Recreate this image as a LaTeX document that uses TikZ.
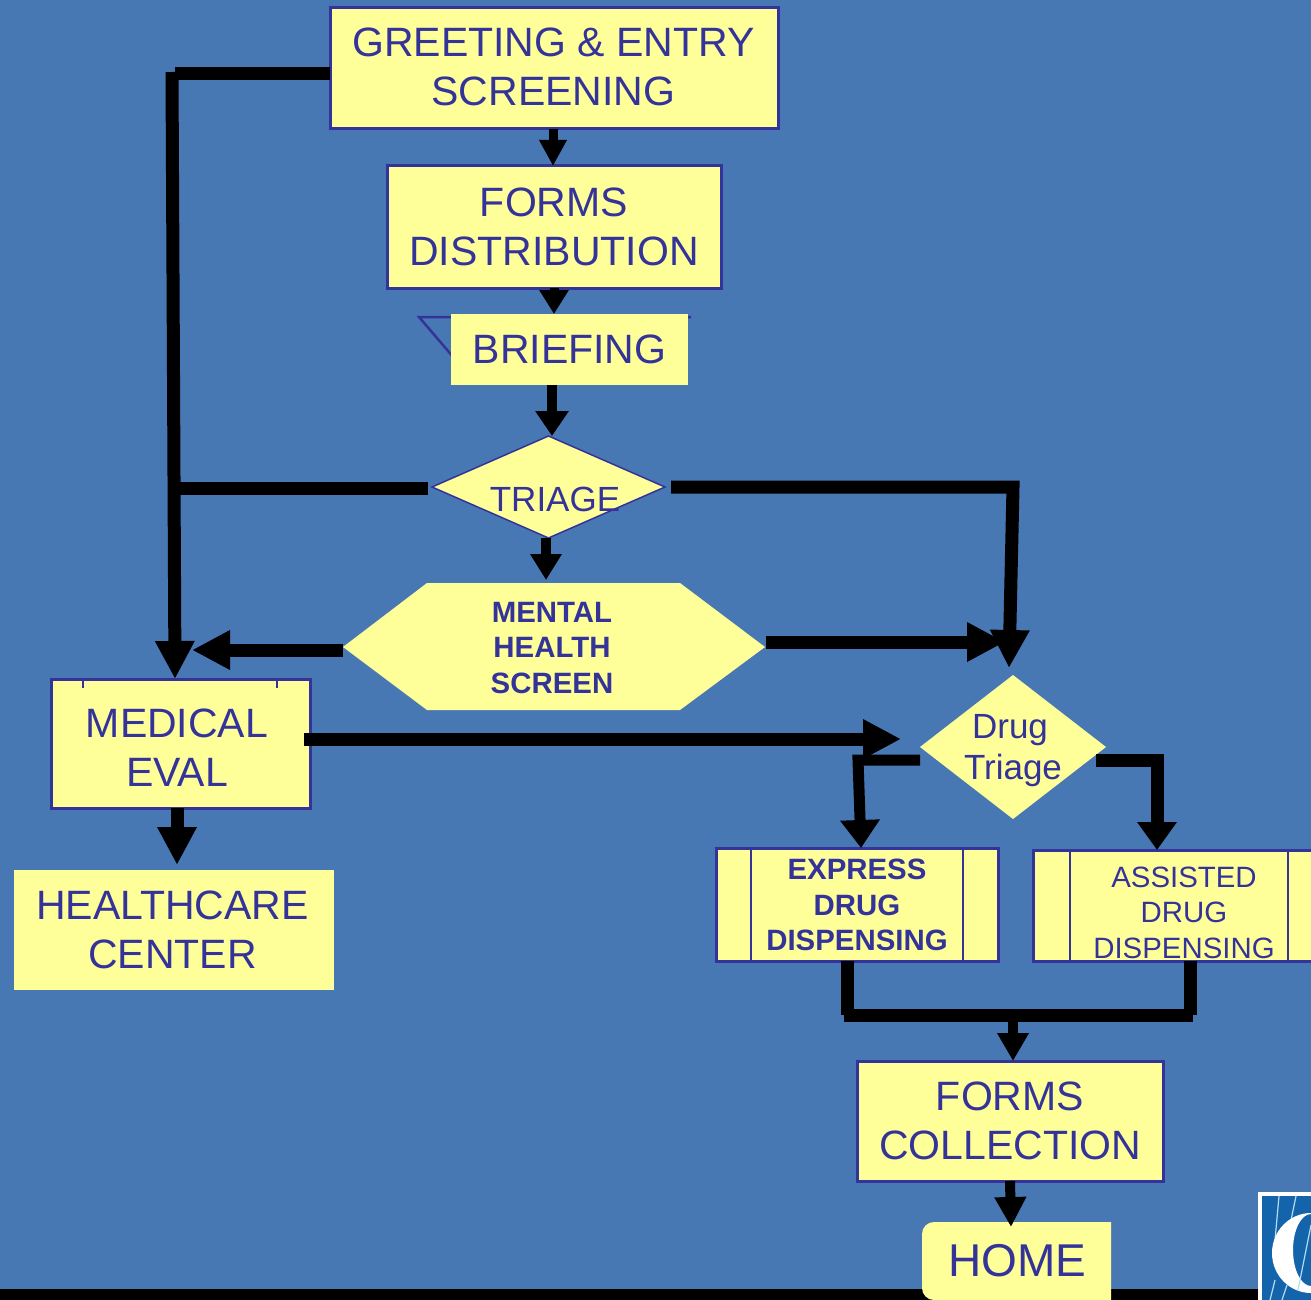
\documentclass[tikz,border=0pt]{standalone}
\usepackage{fontspec}
\setmainfont{Liberation Sans}
\usetikzlibrary{arrows.meta,shapes.geometric,calc}
\definecolor{bgblue}{HTML}{4878B4}
\definecolor{boxfill}{HTML}{FFFF99}
\definecolor{ink}{HTML}{333399}
\definecolor{logoblue}{HTML}{1464AC}
\definecolor{logoline}{HTML}{B8DCEE}
\tikzset{
  bx/.style={rectangle,fill=boxfill,inner sep=0pt,outer sep=0pt,text=ink,align=center,font=\fontsize{41}{49}\selectfont},
  bdr/.style={bx,draw=ink,line width=3pt},
  txt/.style={inner sep=0pt,outer sep=0pt,text=ink,align=center},
  small/.style={txt,font=\fontsize{29.4}{35.5}\selectfont},
  smallb/.style={txt,font=\fontsize{29.4}{35.5}\selectfont\bfseries},
  dmd/.style={diamond,fill=boxfill,inner sep=0pt,outer sep=0pt},
  line/.style={draw=black,line width=13pt,miter limit=10},
  big/.style={line,-{Triangle[length=38pt,width=37pt]}},
  low/.style={line,-{Triangle[length=28pt,width=38pt]}},
}
\begin{document}
\begin{tikzpicture}[x=1pt,y=-1pt]
\useasboundingbox (0,0) rectangle (1311,1300);
\fill[bgblue] (0,0) rectangle (1311,1300);
% bottom bar and logo
\fill[black] (0,1289) rectangle (1258,1300);
\fill[white] (1258,1192) rectangle (1311,1300);
\fill[logoblue] (1262,1196) rectangle (1311,1300);
\begin{scope}
\clip (1262,1196) rectangle (1311,1300);
\draw[logoline,line width=1.2pt] (1279,1196)--(1275,1240) (1296,1196)--(1290,1225) (1275,1280)--(1270,1300) (1287,1285)--(1282,1300);
\fill[white,even odd rule] (1311,1253) ellipse [x radius=39,y radius=40]
  (1311,1250) ellipse [x radius=18,y radius=36];
\draw[logoline,line width=1.2pt] (1311,1225)--(1298,1290);
\end{scope}
% boxes
\node[bdr,minimum width=448pt,minimum height=121pt] (greet) at (554,68.5) {};
\node[txt,font=\fontsize{41}{49}\selectfont] (greettext) at (553.5,66.5) {GREETING \& ENTRY\\SCREENING};
\node[bdr,minimum width=334pt,minimum height=122pt] (forms) at (554,227) {FORMS\\DISTRIBUTION};
\draw[ink,line width=2.5pt] (460,317)--(419,317)--(454,358) (686,317)--(691,317);
\node[bx,minimum width=237pt,minimum height=71pt] (brief) at (569.5,349.5) {BRIEFING};
\node[dmd,draw=ink,line width=1.5pt,minimum width=233pt,minimum height=102pt] (triage) at (548.5,487) {};
\node[txt,font=\fontsize{35}{42}\selectfont] (triagetext) at (555,499) {TRIAGE};
\fill[boxfill] (343,647)--(427,583)--(680,583)--(765,647)--(680,710)--(427,710)--cycle;
\node[minimum width=422pt,minimum height=127pt,inner sep=0pt,outer sep=0pt] (mental) at (554,646.5) {};
\node[smallb] (mentaltext) at (552,648) {MENTAL\\HEALTH\\SCREEN};
\node[bdr,minimum width=259pt,minimum height=129pt] (medical) at (180.5,743.5) {};
\node[txt,font=\fontsize{41}{49}\selectfont] (medicaltext) at (177,748) {MEDICAL\\EVAL};
\draw[ink,line width=2.5pt] (83,679)--(83,688) (277,679)--(277,688);
\draw[ink,line width=3pt] (51,808)--(65,808) (291,808)--(310,808);
\node[bx,minimum width=320pt,minimum height=120pt] (health) at (174,930) {};
\node[txt,font=\fontsize{41}{49}\selectfont] (healthtext) at (172.5,930) {HEALTHCARE\\CENTER};
\node[dmd,minimum width=186pt,minimum height=144pt] (drug) at (1013,747) {};
\node[txt,font=\fontsize{35}{41}\selectfont] (drugtext) at (1013,751) {\hspace*{-6pt}Drug\\Triage};
\node[bx,draw=ink,line width=3pt,minimum width=282pt,minimum height=113pt] (express) at (857,904.5) {};
\draw[ink,line width=2.5pt] (751,848)--(751,961) (963,848)--(963,961);
\node[smallb] (expresstext) at (857,905) {EXPRESS\\DRUG\\DISPENSING};
\node[bx,draw=ink,line width=3pt,minimum width=290pt,minimum height=111pt] (assist) at (1178,905.5) {};
\draw[ink,line width=2.5pt] (1070,850)--(1070,961) (1288,850)--(1288,961);
\node[small] (assisttext) at (1184,912.5) {ASSISTED\\DRUG\\DISPENSING};
\node[bdr,minimum width=306pt,minimum height=120pt] (coll) at (1010,1121) {FORMS\\COLLECTION};
\fill[boxfill] (1111,1300) [rounded corners=12pt] -- (922,1300) -- (922,1222) [sharp corners] -- (1111,1222) -- cycle;
\node[txt,font=\fontsize{46}{49}\selectfont,minimum width=189pt,minimum height=78pt] (home) at (1017.5,1261) {HOME};
% connectors
\draw[line width=9pt,-{Triangle[length=26pt,width=26pt]}] (greet.south -| 553,0)--(forms.north -| 553,0);
\draw[line width=9pt,-{Triangle[length=24pt,width=28pt]}] (forms.south)--(forms.south |- brief.north);
\draw[line width=10pt,-{Triangle[length=25pt,width=32pt]}] (brief.south -| 552,0)--(triage.north -| 552,0);
\draw[line width=10pt,-{Triangle[length=26pt,width=30pt]}] (triage.south -| 546,0)--(546,580);
\draw[line] ([yshift=-5.5pt]greet.west)--(175,74);
\draw[big] (172,72)--(medical.north -| 175,0);
\draw[line] ($(triage.west)+(-4,1)$)--(175,488);
\draw[big] ($(triage.east)+(6,0)$)--(1013,487)--(1009,668);
\draw[big] (mental.west |- 0,650)--(192,650);
\draw[big] (766,642)--(1005,642);
\draw[big] (304,739)--(901,739);
\draw[big] (medical.south -| 177,0)--(177,865);
\draw[line width=11pt,-{Triangle[length=28pt,width=38pt]}] (drug.west |- 0,760)--(858,760)--(express.north -| 861,0);
\draw[low] (1096,760)--(1157,760)--(assist.north -| 1157,0);
\draw[line] (express.south -| 847,0)--(847,1015);
\draw[line] (assist.south -| 1190,0)--(1190,1015);
\draw[line] (844,1015)--(1193,1015);
\draw[line width=10pt,-{Triangle[length=28pt,width=30pt]}] (1013,1021)--(coll.north -| 1013,0);
\draw[line width=10pt,-{Triangle[length=30pt,width=30pt]}] (coll.south)--(1011,1227);
\end{tikzpicture}
\end{document}
